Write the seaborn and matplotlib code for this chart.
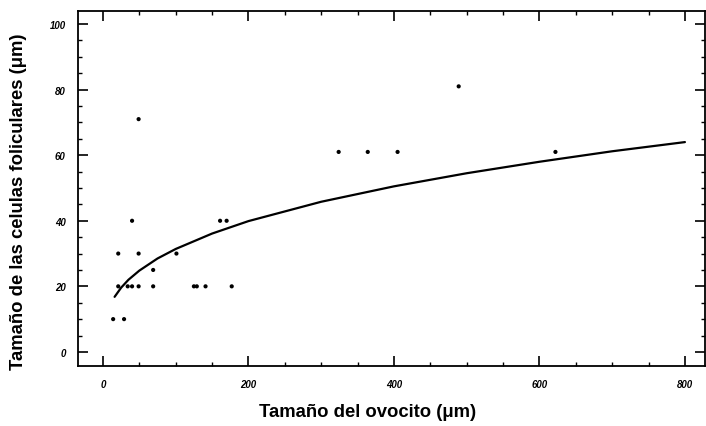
import numpy as np
import pandas as pd
import matplotlib
matplotlib.use("Agg")
import matplotlib.pyplot as plt
from matplotlib.ticker import MultipleLocator
import seaborn as sns

# Observed points (oocyte size, follicular cell size)
oocyte = [14, 29, 21, 49, 21, 34, 40, 49, 69, 69, 40, 49, 101, 125, 129, 141, 177,
          161, 170, 324, 364, 405, 489, 622]
cells = [10, 10, 30, 30, 20, 20, 20, 20, 25, 20, 40, 71, 30, 20, 20, 20, 20,
         40, 40, 61, 61, 61, 81, 61]

# Fitted curve
curve_x = [16, 25, 35, 50, 75, 100, 150, 200, 300, 400, 500, 600, 700, 800]
curve_y = [16.8, 19.6, 22.0, 24.8, 28.5, 31.4, 36.1, 39.9, 45.8, 50.5, 54.5, 58.0, 61.2, 64.0]

x_ticks = [0, 200, 400, 600, 800]
y_ticks = [0, 20, 40, 60, 80, 100]

sns.set_theme(style="ticks")
plt.rcParams['font.family'] = ['Liberation Sans', 'DejaVu Sans']
plt.rcParams['text.color'] = 'black'
plt.rcParams['axes.labelcolor'] = 'black'
plt.rcParams['xtick.color'] = 'black'
plt.rcParams['ytick.color'] = 'black'

fig = plt.figure(figsize=(7.06, 4.27), dpi=100)
ax = fig.add_axes([0.1105, 0.1405, 0.8885, 0.8315])

pts = pd.DataFrame({"x": oocyte, "y": cells})
crv = pd.DataFrame({"x": curve_x, "y": curve_y})

sns.scatterplot(data=pts, x="x", y="y", ax=ax, color="black", s=9,
                edgecolor="none", zorder=3)
sns.lineplot(data=crv, x="x", y="y", ax=ax, color="black", linewidth=1.6,
             zorder=2)

ax.set_xlim(-34.3, 828)
ax.set_ylim(-4.3, 104)
ax.set_xticks(x_ticks)
ax.set_yticks(y_ticks)
ax.xaxis.set_minor_locator(MultipleLocator(50))
ax.yaxis.set_minor_locator(MultipleLocator(5))
ax.set_xticklabels([str(v) for v in x_ticks], fontsize=7, fontweight="bold", style="italic")
ax.set_yticklabels([str(v) for v in y_ticks], fontsize=7, fontweight="bold", style="italic")
ax.tick_params(which="major", direction="in", length=7, width=1.2, top=True, right=True,
               pad=9, color="black", labelcolor="black")
ax.tick_params(which="minor", direction="in", length=3, width=1.0, top=True, right=True,
               color="black")

for sp in ax.spines.values():
    sp.set_visible(True)
    sp.set_color("black")
    sp.set_linewidth(1.3)

ax.set_xlabel("Tamaño del ovocito (μm)", fontsize=13.3, fontweight="bold", color="black")
ax.set_ylabel("Tamaño de las celulas foliculares (μm)", fontsize=13.3, fontweight="bold",
              color="black")
ax.xaxis.set_label_coords(0.462, -0.105)
ax.yaxis.set_label_coords(-0.082, 0.465)

fig.savefig("out.png", dpi=100, facecolor="white")
